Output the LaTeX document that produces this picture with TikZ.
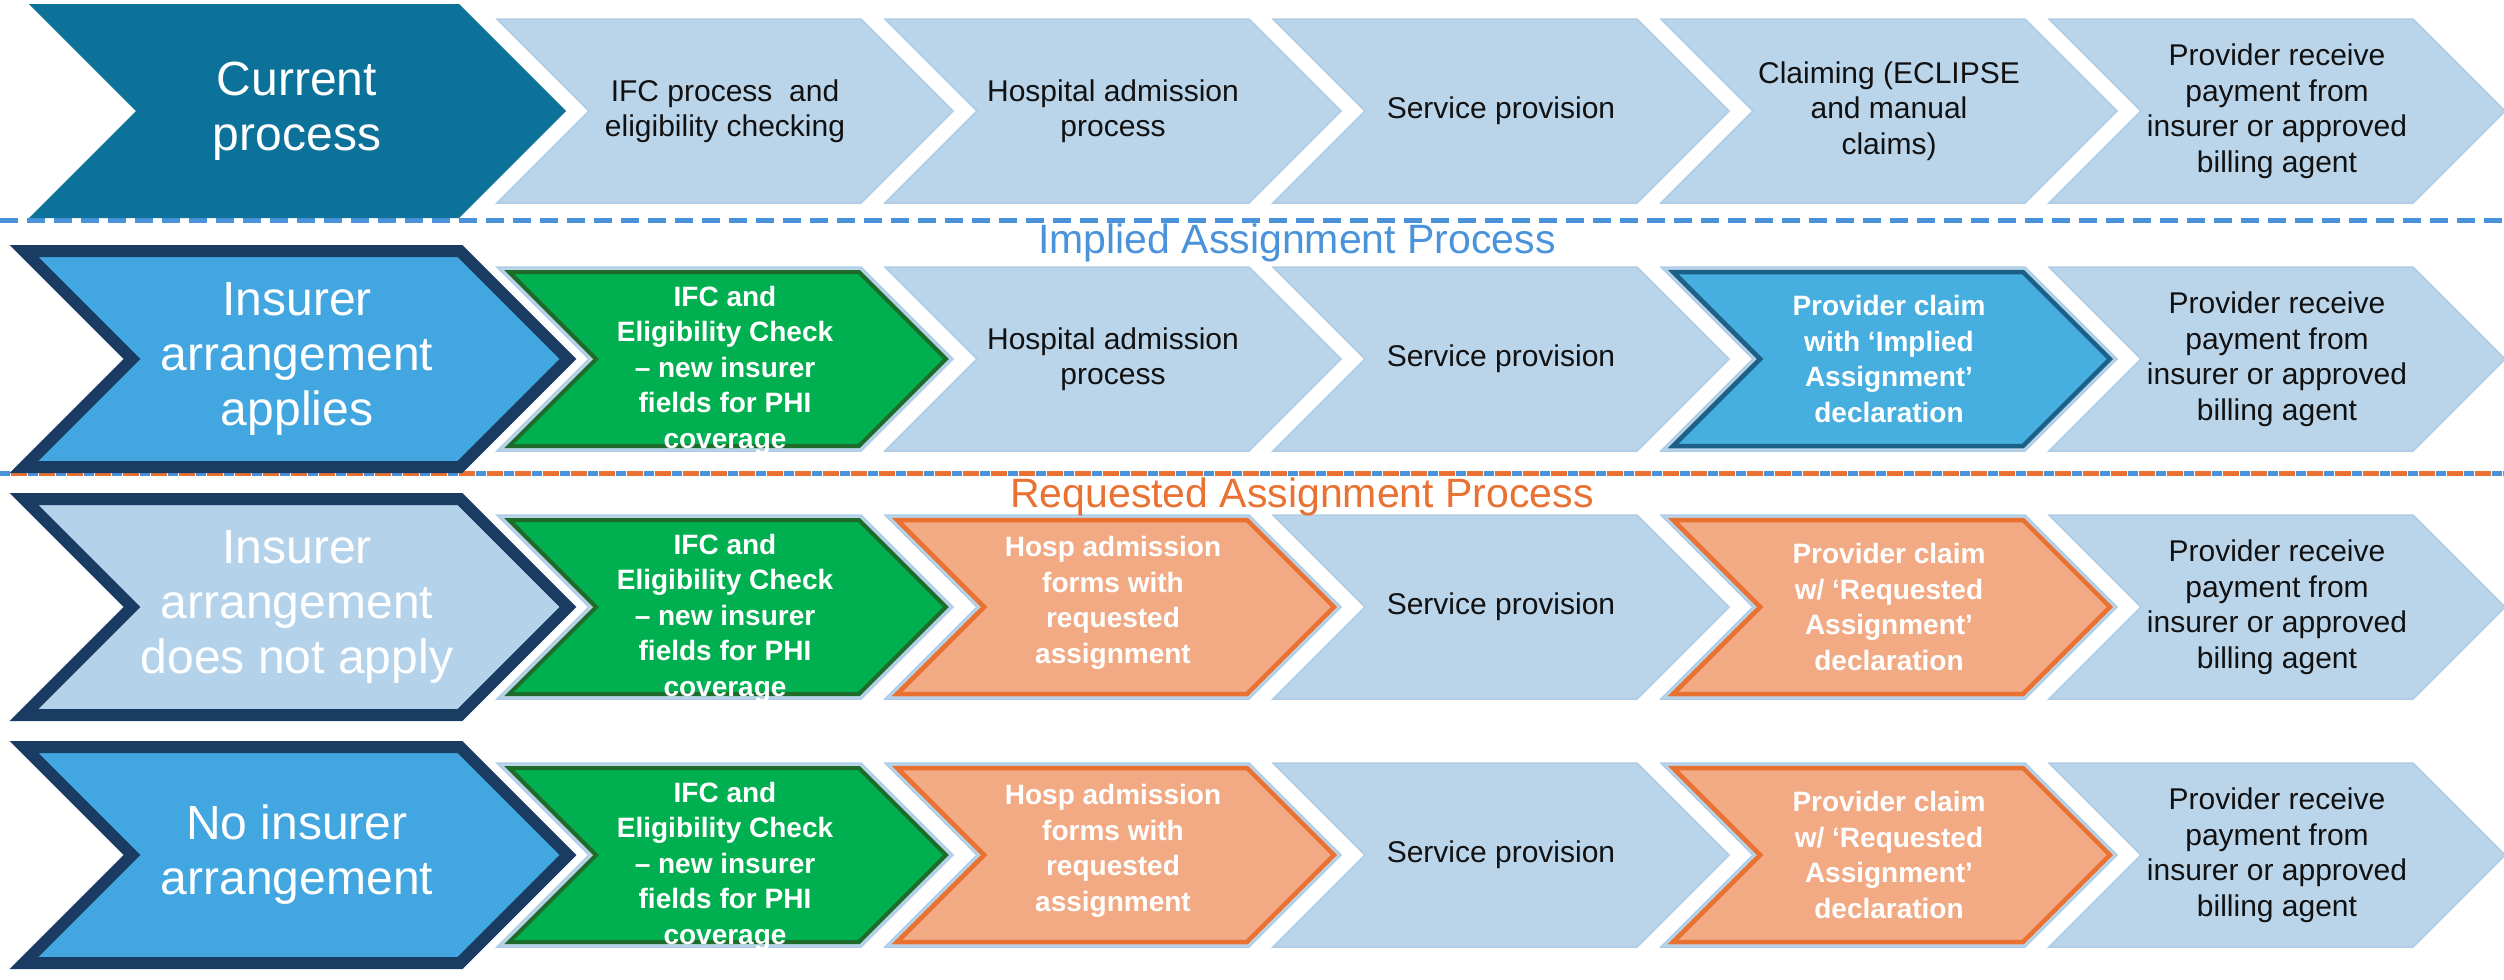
\documentclass[tikz,border=0pt]{standalone}
\usepackage{fontspec}
\setmainfont{Liberation Sans}
\definecolor{lb}{HTML}{BAD4EA}
\definecolor{lbedge}{HTML}{AFCCE7}
\definecolor{tealbig}{HTML}{0D7299}
\definecolor{bigblue}{HTML}{42A6E0}
\definecolor{bigpale}{HTML}{B4D2EA}
\definecolor{navy}{HTML}{1A3C62}
\definecolor{grfill}{HTML}{00B050}
\definecolor{grdraw}{HTML}{1F6B2A}
\definecolor{orfill}{HTML}{F2AA84}
\definecolor{ordraw}{HTML}{E97132}
\definecolor{imfill}{HTML}{46AFE0}
\definecolor{imdraw}{HTML}{1C5F87}
\definecolor{dashblue}{HTML}{4A92D9}
\definecolor{txtblack}{HTML}{111111}
% style, x0, yc, W, D, inset
\newcommand{\chev}[6]{%
  \path[#1] ({#2+2.414*#6},{#3-#5+#6}) -- ({#2+#4-0.414*#6},{#3-#5+#6})
    -- ({#2+#4+#5-1.414*#6},{#3}) -- ({#2+#4-0.414*#6},{#3+#5-#6})
    -- ({#2+2.414*#6},{#3+#5-#6}) -- ({#2+#5+1.414*#6},{#3}) -- cycle;}
\begin{document}
\begin{tikzpicture}[x=1pt,y=-1pt,
  basech/.style={fill=lb, draw=lbedge, line width=1.5pt},
  bigteal/.style={fill=tealbig},
  bigb/.style={fill=bigblue, draw=navy, line width=12pt, line join=miter},
  bigp/.style={fill=bigpale, draw=navy, line width=12pt, line join=miter},
  greench/.style={fill=grfill, draw=grdraw, line width=4pt},
  orangech/.style={fill=orfill, draw=ordraw, line width=4.5pt},
  impliedch/.style={fill=imfill, draw=imdraw, line width=4.5pt},
  lt/.style={font=\fontsize{30}{35.5}\selectfont, align=center, text=txtblack, inner sep=0pt},
  bt/.style={font=\fontsize{28}{35.5}\selectfont\bfseries, align=center, text=white, inner sep=0pt},
  bigt/.style={font=\fontsize{48}{55}\selectfont, align=center, text=white, inner sep=0pt},
  lab/.style={font=\fontsize{41}{45}\selectfont, anchor=base, inner sep=0pt},
  sepline/.style={line width=5pt}
]
\useasboundingbox (0,0) rectangle (2504,980);

% separators
\coordinate (s1a) at (0,220);  \coordinate (s1b) at (2504,220);
\coordinate (s2a) at (0,473);  \coordinate (s2b) at (2504,473);
\draw[sepline, dashblue, dash pattern=on 18pt off 9pt] (s1a) -- (s1b);
\draw[sepline, dashblue, dash pattern=on 10pt off 18pt] (s2a) -- (s2b);
\draw[sepline, ordraw, dash pattern=on 16pt off 12pt, dash phase=17pt] (s2a) -- (s2b);

% base light chevrons
\foreach \yc in {111,359,607,855}{
  \foreach \k in {0,...,4}{
    \chev{basech}{497+388*\k}{\yc}{364}{92}{0}
  }
}

% big chevrons
\chev{bigteal}{29}{111}{430}{107}{0}
\chev{bigb}{24}{359}{436}{108}{0}
\chev{bigp}{24}{607}{436}{108}{0}
\chev{bigb}{24}{855}{436}{108}{0}

% highlighted chevrons
\chev{greench}{497}{359}{364}{92}{5}
\chev{impliedch}{1661}{359}{364}{92}{5}
\chev{greench}{497}{607}{364}{92}{5}
\chev{orangech}{885}{607}{364}{92}{5}
\chev{orangech}{1661}{607}{364}{92}{5}
\chev{greench}{497}{855}{364}{92}{5}
\chev{orangech}{885}{855}{364}{92}{5}
\chev{orangech}{1661}{855}{364}{92}{5}

% section labels
\node[lab, text=dashblue] (implab) at (1297,253) {Implied Assignment Process};
\node[lab, text=ordraw] (reqlab) at (1302,507) {Requested Assignment Process};

% row 1
\node[bigt] (b1) at (297,111) {Current\\process};
\node[lt] (r1c1) at (725,111) {IFC process~ and\\eligibility checking};
\node[lt] (r1c2) at (1113,111) {Hospital admission\\process};
\node[lt] (r1c3) at (1501,111) {Service provision};
\node[lt] (r1c4) at (1889,111) {Claiming (ECLIPSE\\and manual\\claims)};
\node[lt] (r1c5) at (2277,111) {Provider receive\\payment from\\insurer or approved\\billing agent};

% row 2
\node[bigt] (b2) at (297,359) {Insurer\\arrangement\\applies};
\node[bt] (r2c1) at (725,370) {IFC and\\Eligibility Check\\– new insurer\\fields for PHI\\coverage};
\node[lt] (r2c2) at (1113,359) {Hospital admission\\process};
\node[lt] (r2c3) at (1501,359) {Service provision};
\node[bt] (r2c4) at (1889,359) {Provider claim\\with ‘Implied\\Assignment’\\declaration};
\node[lt] (r2c5) at (2277,359) {Provider receive\\payment from\\insurer or approved\\billing agent};

% row 3
\node[bigt] (b3) at (297,607) {Insurer\\arrangement\\does not apply};
\node[bt] (r3c1) at (725,618) {IFC and\\Eligibility Check\\– new insurer\\fields for PHI\\coverage};
\node[bt] (r3c2) at (1113,603) {Hosp admission\\forms with\\requested\\assignment};
\node[lt] (r3c3) at (1501,607) {Service provision};
\node[bt] (r3c4) at (1889,607) {Provider claim\\w/ ‘Requested\\Assignment’\\declaration};
\node[lt] (r3c5) at (2277,607) {Provider receive\\payment from\\insurer or approved\\billing agent};

% row 4
\node[bigt] (b4) at (297,855) {No insurer\\arrangement};
\node[bt] (r4c1) at (725,866) {IFC and\\Eligibility Check\\– new insurer\\fields for PHI\\coverage};
\node[bt] (r4c2) at (1113,851) {Hosp admission\\forms with\\requested\\assignment};
\node[lt] (r4c3) at (1501,855) {Service provision};
\node[bt] (r4c4) at (1889,855) {Provider claim\\w/ ‘Requested\\Assignment’\\declaration};
\node[lt] (r4c5) at (2277,855) {Provider receive\\payment from\\insurer or approved\\billing agent};
\end{tikzpicture}
\end{document}
